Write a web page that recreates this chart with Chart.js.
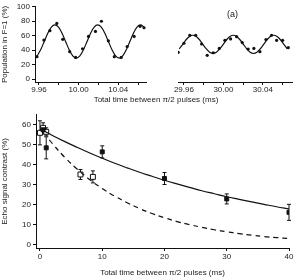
<!DOCTYPE html>
<html>
<head>
<meta charset="utf-8">
<script src="https://cdn.jsdelivr.net/npm/chart.js@4"></script>
<style>
  body { margin: 0; background: #fff; }
  #wrap { position: relative; width: 296px; height: 278px; font-family: "Liberation Sans", Arial, sans-serif; color: #222; }
  canvas { position: absolute; }
  .lbl { position: absolute; white-space: nowrap; color: #222; filter: grayscale(1); -webkit-font-smoothing: antialiased; }
</style>
</head>
<body>
<div id="wrap">
  <canvas id="topLeft" style="left:0;top:0;width:150px;height:93px"></canvas>
  <canvas id="topRight" style="left:150px;top:0;width:146px;height:93px"></canvas>
  <canvas id="echo" style="left:0;top:108px;width:296px;height:170px"></canvas>
  <div class="lbl" style="left:227px;top:9px;font-size:9px">(a)</div>
  <div class="lbl" style="left:56px;width:200px;text-align:center;top:95px;font-size:8px">Total time between π/2 pulses (ms)</div>
</div>
<script>
// fringes around 10 ms
const leftTimes = [9.958, 9.965, 9.971, 9.978, 9.984, 9.991, 9.997, 10.004, 10.010, 10.017,
                   10.023, 10.030, 10.036, 10.043, 10.049, 10.056, 10.062, 10.066];
const leftPop = [31, 54, 67, 77, 55, 38, 30, 42, 59, 66, 80, 53, 31, 30, 45, 59, 73, 71];
const leftFitT = [9.9581, 9.9617, 9.9653, 9.9689, 9.9725, 9.9761, 9.9797, 9.9833, 9.9869, 9.9905,
                  9.9941, 9.9977, 10.0013, 10.0049, 10.0085, 10.0121, 10.0157, 10.0193, 10.0229, 10.0265,
                  10.0301, 10.0337, 10.0373, 10.0409, 10.0445, 10.0481, 10.0517, 10.0553, 10.0589, 10.0625, 10.0661];
const leftFitY = [32.1, 40.5, 52, 63.5, 71.9, 75, 71.9, 63.5, 52, 40.5,
                  32.1, 29, 32.1, 40.5, 52, 63.5, 71.9, 75, 71.9, 63.5,
                  52, 40.5, 32.1, 29, 32.1, 40.5, 52, 63.5, 71.9, 75, 71.9];

// fringes around 30 ms
const rightTimes = [29.9542, 29.960, 29.966, 29.9719, 29.9779, 29.9836, 29.9897, 29.9958, 30.0015, 30.0073,
                    30.0134, 30.0191, 30.0251, 30.0309, 30.0370, 30.0431, 30.0488, 30.0539, 30.0600, 30.0657];
const rightPop = [36.6, 49, 60, 60, 48, 32.5, 36, 42, 53, 55, 58, 50, 41, 42, 37.5, 54, 60, 53, 53, 43];
const rightFitT = [29.9553, 29.9588, 29.9622, 29.9656, 29.9690, 29.9724, 29.9758, 29.9792, 29.9827, 29.9861,
                   29.9895, 29.9929, 29.9963, 29.9998, 30.0032, 30.0066, 30.0100, 30.0134, 30.0168, 30.0203,
                   30.0237, 30.0271, 30.0305, 30.0339, 30.0373, 30.0408, 30.0442, 30.0476, 30.0510, 30.0544,
                   30.0578, 30.0613, 30.0647];
const rightFitY = [41.3, 47.5, 53.8, 58.3, 60, 58.3, 53.8, 47.5, 41.3, 36.7,
                   35, 36.7, 41.3, 47.5, 53.8, 58.3, 60, 58.3, 53.8, 47.5,
                   41.3, 36.7, 35, 36.7, 41.3, 47.5, 53.8, 58.3, 60, 58.3,
                   53.8, 47.5, 41.3];

// echo contrast
const echoTimesA = [0.5, 1, 10, 20, 30, 40];
const echoA = [57.5, 48.5, 46.5, 33.2, 23, 16.3];
const echoErrA = [2, 5.5, 3, 3, 2.5, 4];
const echoTimesB = [0, 0.5, 1, 6.5, 8.5];
const echoB = [56, 58.5, 56.5, 35.2, 34];
const echoErrB = [6, 2.5, 2, 2.5, 3];
const solidFitT = [0.5, 2, 4, 6, 8, 10, 12, 14, 16, 18, 20, 22, 24, 26, 28, 30, 32, 34, 36, 38, 40];
const solidFitY = [57.2, 54.7, 51.6, 48.7, 45.9, 43.3, 40.8, 38.5, 36.3, 34.3, 32.3,
                   30.5, 28.8, 27.1, 25.6, 24.1, 22.8, 21.5, 20.3, 19.1, 18.0];
const dashFitT = [1.5, 2, 4, 6, 8, 10, 12, 14, 16, 18, 20, 22, 24, 26, 28, 30, 32, 34, 36, 38, 40];
const dashFitY = [52.5, 50.6, 43.7, 37.8, 32.6, 28.2, 24.4, 21.1, 18.2, 15.7, 13.6,
                  11.7, 10.2, 8.8, 7.6, 6.6, 5.7, 4.9, 4.2, 3.7, 3.2];

const FONT = "'Liberation Sans', Arial, sans-serif";
const tickFont = { family: FONT, size: 8 };
const pts = (xs, ys) => xs.map((x, i) => ({ x, y: ys[i] }));

const errorBars = {
    id: "errorBars",
    beforeDatasetsDraw(chart) {
        const { ctx, scales: { x, y } } = chart;
        ctx.save();
        ctx.strokeStyle = "#111";
        ctx.lineWidth = 1;
        chart.data.datasets.forEach(ds => {
            if (!ds.errors) return;
            ds.data.forEach((p, i) => {
                const px = x.getPixelForValue(p.x);
                const top = y.getPixelForValue(p.y + ds.errors[i]);
                const bot = y.getPixelForValue(p.y - ds.errors[i]);
                ctx.beginPath();
                ctx.moveTo(px, top); ctx.lineTo(px, bot);
                ctx.moveTo(px - 2, top); ctx.lineTo(px + 2, top);
                ctx.moveTo(px - 2, bot); ctx.lineTo(px + 2, bot);
                ctx.stroke();
            });
        });
        ctx.restore();
    }
};

const axisLine = { display: true, color: "#111", width: 1 };
const tickGrid = { drawOnChartArea: false, drawTicks: true, tickLength: 3, color: "#111" };

function fixedTicks(values) {
    return scale => { scale.ticks = values.map(v => ({ value: v })); };
}

function fringeChart(id, times, pop, fitT, fitY, xMin, xMax, xTicks, xLabels, showY, pad) {
    return new Chart(document.getElementById(id), {
        type: "scatter",
        data: {
            datasets: [
                {
                    data: pts(fitT, fitY),
                    showLine: true,
                    borderColor: "#111",
                    borderWidth: 1.2,
                    pointRadius: 0,
                    cubicInterpolationMode: "monotone"
                },
                {
                    data: pts(times, pop),
                    pointRadius: 1.6,
                    backgroundColor: "#111",
                    borderWidth: 0
                }
            ]
        },
        options: {
            responsive: false,
            animation: false,
            layout: { padding: pad },
            plugins: { legend: { display: false }, tooltip: { enabled: false } },
            scales: {
                x: {
                    min: xMin, max: xMax,
                    afterBuildTicks: fixedTicks(xTicks),
                    afterFit: s => { s.height = 11; },
                    border: axisLine,
                    grid: tickGrid,
                    ticks: {
                        font: tickFont, color: "#222", padding: 0, maxRotation: 0, autoSkip: false,
                        callback: v => xLabels.includes(v) ? v.toFixed(2) : ""
                    }
                },
                y: {
                    display: showY,
                    min: -4, max: 100,
                    afterBuildTicks: fixedTicks([0, 20, 40, 60, 80, 100]),
                    afterFit: s => { s.width = showY ? 35 : 0; },
                    border: axisLine,
                    grid: tickGrid,
                    ticks: { font: tickFont, color: "#222", padding: 2 },
                    title: { display: true, text: "Population in F=1 (%)", font: tickFont, color: "#222", padding: 0 }
                }
            }
        }
    });
}

fringeChart("topLeft", leftTimes, leftPop, leftFitT, leftFitY, 9.956, 10.068,
    [9.96, 9.98, 10.00, 10.02, 10.04, 10.06], [9.96, 10.00, 10.04], true,
    { top: 6, right: 3, left: 0, bottom: 0 });

fringeChart("topRight", rightTimes, rightPop, rightFitT, rightFitY, 29.954, 30.0695,
    [29.96, 29.98, 30.00, 30.02, 30.04, 30.06], [29.96, 30.00, 30.04], false,
    { top: 6, right: 4, left: 28, bottom: 0 });

new Chart(document.getElementById("echo"), {
    type: "scatter",
    data: {
        datasets: [
            {
                data: pts(solidFitT, solidFitY),
                showLine: true, borderColor: "#111", borderWidth: 1.2, pointRadius: 0, tension: 0.4
            },
            {
                data: pts(dashFitT, dashFitY),
                showLine: true, borderColor: "#111", borderWidth: 1.2, borderDash: [5, 4], pointRadius: 0, tension: 0.4
            },
            {
                data: pts(echoTimesA, echoA),
                errors: echoErrA,
                pointStyle: "rect", pointRadius: 2.8, backgroundColor: "#111", borderColor: "#111", borderWidth: 1
            },
            {
                data: pts(echoTimesB, echoB),
                errors: echoErrB,
                pointStyle: "rect", pointRadius: 3.5, backgroundColor: "#fff", borderColor: "#111", borderWidth: 1
            }
        ]
    },
    options: {
        responsive: false,
        animation: false,
        layout: { padding: { top: 4, right: 7, left: 0, bottom: 0 } },
        plugins: { legend: { display: false }, tooltip: { enabled: false } },
        scales: {
            x: {
                min: -0.64, max: 40,
                afterBuildTicks: fixedTicks([0, 10, 20, 30, 40]),
                afterFit: s => { s.height = 30; },
                border: axisLine,
                grid: tickGrid,
                ticks: { font: tickFont, color: "#222", padding: 1, maxRotation: 0 },
                title: { display: true, text: "Total time between π/2 pulses (ms)", font: tickFont, color: "#222", padding: { top: 1, bottom: 0 } }
            },
            y: {
                min: -1.5, max: 65,
                afterBuildTicks: fixedTicks([0, 10, 20, 30, 40, 50, 60]),
                afterFit: s => { s.width = 36; },
                border: axisLine,
                grid: tickGrid,
                ticks: { font: tickFont, color: "#222", padding: 2 },
                title: { display: true, text: "Echo signal contrast (%)", font: tickFont, color: "#222", padding: 0 }
            }
        }
    },
    plugins: [errorBars]
});
</script>
</body>
</html>
